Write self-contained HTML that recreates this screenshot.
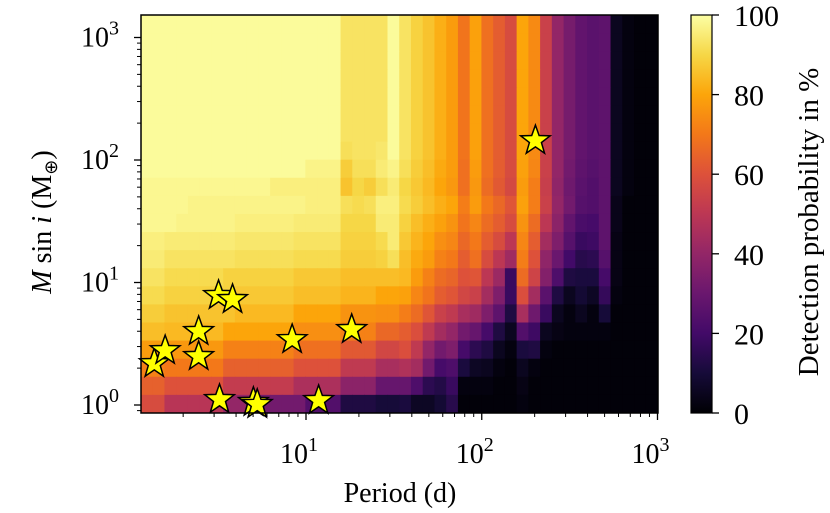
<!DOCTYPE html>
<html><head><meta charset="utf-8">
<style>
html,body{margin:0;padding:0;background:#fff;}
svg{display:block;font-family:"Liberation Serif",serif;}
</style></head>
<body>
<svg id="chart" width="830" height="513" viewBox="0 0 830 513" xmlns="http://www.w3.org/2000/svg">
<defs>
<linearGradient id="cbgrad" x1="0" y1="1" x2="0" y2="0">
<stop offset="0" stop-color="#000004"/><stop offset="0.1" stop-color="#160b39"/><stop offset="0.2" stop-color="#420a68"/><stop offset="0.3" stop-color="#6a176e"/><stop offset="0.4" stop-color="#932667"/><stop offset="0.5" stop-color="#bc3754"/><stop offset="0.6" stop-color="#dd513a"/><stop offset="0.7" stop-color="#f37819"/><stop offset="0.8" stop-color="#fca50a"/><stop offset="0.9" stop-color="#f6d746"/><stop offset="1" stop-color="#fcffa4"/>
</linearGradient>
<clipPath id="plotclip"><rect x="141" y="15" width="517" height="398"/></clipPath>
</defs>
<g id="heatmap" clip-path="url(#plotclip)"></g>
<g id="stars"></g>
<rect x="141" y="15" width="517" height="398" fill="none" stroke="#000" stroke-width="1.5"/>
<g id="xaxis"></g>
<g id="yaxis"></g>
<text x="400" y="502" font-size="28" text-anchor="middle">Period (d)</text>
<text transform="translate(51,222) rotate(-90)" font-size="28" text-anchor="middle"><tspan font-style="italic">M</tspan> sin <tspan font-style="italic">i</tspan> (M<tspan font-size="18" dy="6">⊕</tspan><tspan dy="-6">)</tspan></text>
<rect x="691" y="15" width="21" height="398" fill="url(#cbgrad)" stroke="#000" stroke-width="1.2"/>
<g id="cbaxis"></g>
<text transform="translate(818,222) rotate(-90)" font-size="29" text-anchor="middle">Detection probability in %</text>
</svg>
<script>
// log10 period range and log10 mass range of the grid
const logPeriodMin = 0.061, logPeriodMax = 3.0;
const logMassMin = -0.065, logMassMax = 3.184;
// detection probability (%) grid: rows from highest mass (top) to lowest mass (bottom), columns increasing period
const probGrid = [
[99,99,99,99,99,99,99,99,99,99,99,99,99,99,99,99,99,93,93,93,93,99,93,89,86,82,78,69,79,68,63,58,80,74,54,40,33,28,26,27,5,2,1,1],
[99,99,99,99,99,99,99,99,99,99,99,99,99,99,99,99,99,93,93,93,93,99,93,89,86,82,78,69,79,68,63,58,80,74,54,40,33,28,26,27,5,2,1,1],
[99,99,99,99,99,99,99,99,99,99,99,99,99,99,99,99,99,93,93,93,93,99,93,89,86,82,78,69,79,68,63,58,80,74,54,40,33,28,26,27,5,2,1,1],
[99,99,99,99,99,99,99,99,99,99,99,99,99,99,99,99,99,93,93,93,93,99,93,89,86,82,78,69,79,68,63,58,80,74,54,40,33,28,26,27,5,2,1,1],
[99,99,99,99,99,99,99,99,99,99,99,99,99,99,99,99,99,93,93,93,93,99,93,89,86,82,78,69,79,68,63,58,80,74,54,40,33,28,26,27,5,2,1,1],
[99,99,99,99,99,99,99,99,99,99,99,99,99,99,99,99,99,93,93,93,93,99,93,89,86,82,78,69,79,68,63,58,80,74,54,40,33,28,26,27,5,2,1,1],
[99,99,99,99,99,99,99,99,99,99,99,99,99,99,99,99,99,93,93,93,93,99,93,89,86,82,78,69,79,68,63,58,80,74,54,40,33,28,26,27,5,2,1,1],
[99,99,99,99,99,99,99,99,99,99,99,99,99,99,99,99,99,92,93,93,94,99,93,89,86,82,78,69,79,68,63,58,80,74,54,40,33,28,26,27,5,2,1,1],
[99,99,99,99,99,99,99,99,99,99,99,99,99,99,97,97,97,88,92,92,95,97,92,88,85,81,78,68,78,68,63,58,79,73,54,40,32,27,25,27,5,2,1,1],
[98,98,98,98,98,98,98,98,98,98,98,96,96,96,96,96,96,86,90,88,92,95,90,87,84,80,77,68,77,67,62,57,78,71,53,39,31,26,24,27,5,2,1,1],
[98,98,98,98,97,97,97,97,97,97,97,97,97,97,96,96,96,92,91,92,96,96,91,88,85,82,80,71,78,70,66,61,79,71,54,40,32,25,24,27,4,1,1,1],
[98,98,98,97,97,97,97,97,96,96,96,96,96,95,95,95,95,90,90,90,95,95,89,85,82,79,76,69,73,67,63,58,76,67,50,38,28,22,21,27,4,1,1,1],
[96,96,95,95,95,95,95,95,94,94,94,94,94,93,93,93,93,89,89,89,91,95,87,83,80,75,73,66,70,63,58,50,73,63,44,35,25,18,19,27,3,1,1,1],
[95,95,93,93,93,93,93,93,92,92,92,92,92,91,91,91,91,88,88,88,89,92,85,81,78,72,70,63,68,58,50,43,71,60,39,30,20,14,15,25,3,1,1,1],
[93,93,91,91,91,91,91,89,89,89,89,89,89,87,87,87,87,85,85,85,85,85,84,78,72,67,65,60,61,50,42,18,67,55,36,23,12,11,11,21,3,1,1,1],
[91,91,89,89,89,89,89,89,87,87,87,87,87,85,85,85,85,83,83,83,80,80,79,73,69,63,61,56,54,44,35,18,59,44,26,12,5,9,6,17,2,1,1,1],
[88,88,86,86,86,86,86,86,84,84,84,84,84,80,80,80,80,76,76,76,75,75,71,67,61,54,51,45,43,35,27,12,45,31,18,5,2,5,2,10,1,1,1,1],
[85,85,84,84,84,84,84,80,80,80,80,80,80,75,75,75,75,72,72,72,66,66,63,59,51,44,40,32,29,21,12,5,24,19,5,3,2,2,2,2,1,1,1,1],
[78,78,77,77,77,77,77,72,72,72,72,72,72,68,68,68,68,62,62,62,56,56,59,51,40,32,35,21,15,12,5,2,11,12,2,1,1,1,1,1,1,1,1,1],
[72,72,70,70,70,70,70,64,64,64,64,64,64,60,60,60,60,51,51,51,45,45,47,44,32,21,23,11,6,5,2,1,5,2,1,1,1,1,1,1,1,1,1,1],
[64,64,60,60,60,60,60,52,52,52,52,52,52,46,46,46,46,38,38,38,29,29,29,23,15,13,18,2,2,2,1,1,3,1,1,1,1,1,1,1,1,1,1,1],
[58,58,49,49,49,49,49,40,40,40,32,32,32,32,24,24,24,12,12,12,10,10,11,6,6,9,14,1,1,1,1,1,2,1,1,1,1,1,1,1,1,1,1,1]
];
// planets: period (d) and M sin i (Earth masses)
const planetPeriods = [1.37, 1.58, 2.45, 2.45, 3.18, 3.82, 3.22, 5.02, 5.28, 8.34, 18.2, 11.8, 202];
const planetMasses  = [2.24, 2.86, 4.1, 2.56, 8.06, 7.47, 1.14, 1.08, 1.04, 3.52, 4.25, 1.12, 148];
const xTickExps = [1, 2, 3];
const yTickExps = [0, 1, 2, 3];
const cbTicks = [0, 20, 40, 60, 80, 100];

const NS = "http://www.w3.org/2000/svg";
const X0 = 141, X1 = 658, Y0 = 413, Y1 = 15;
const xAt10 = 306, pxPerDecX = 175.75;
const yAt1 = 405, pxPerDecY = 122.5;
function xScale(logP){ return xAt10 + (logP - 1) * pxPerDecX; }
function yScale(logM){ return yAt1 - logM * pxPerDecY; }
function cbScale(v){ return 413 - v / 100 * 398; }
const stops = [[0,0,0,4],[0.1,22,11,57],[0.2,66,10,104],[0.3,106,23,110],[0.4,147,38,103],[0.5,188,55,84],[0.6,221,81,58],[0.7,243,120,25],[0.8,252,165,10],[0.9,246,215,70],[1,252,255,164]];
function inferno(v){
  const t = Math.max(0, Math.min(1, v / 100));
  for (let i = 0; i < stops.length - 1; i++) {
    const a = stops[i], b = stops[i+1];
    if (t <= b[0]) { const f = (t - a[0]) / (b[0] - a[0]);
      return "rgb(" + [1,2,3].map(k => Math.round(a[k] + (b[k]-a[k]) * f)).join(",") + ")"; }
  }
  return "rgb(252,255,164)";
}
function mk(tag, attrs, parent){ const e = document.createElementNS(NS, tag); for (const k in attrs) e.setAttribute(k, attrs[k]); parent.appendChild(e); return e; }

// heatmap
const hm = document.getElementById("heatmap");
const nRows = probGrid.length, nCols = probGrid[0].length;
const dLP = (logPeriodMax - logPeriodMin) / nCols, dLM = (logMassMax - logMassMin) / nRows;
for (let r = 0; r < nRows; r++) {
  for (let c = 0; c < nCols; c++) {
    const xa = xScale(logPeriodMin + c * dLP), xb = xScale(logPeriodMin + (c + 1) * dLP);
    const ya = yScale(logMassMax - r * dLM), yb = yScale(logMassMax - (r + 1) * dLM);
    const cell = mk("rect", {x: xa, y: ya, width: xb - xa + 0.6, height: yb - ya + 0.6, fill: inferno(probGrid[r][c])}, hm);
    
    
  }
}

// stars
const sg = document.getElementById("stars");
function starPath(cx, cy, R, r){
  let d = "";
  for (let i = 0; i < 10; i++) {
    const ang = -Math.PI / 2 + i * Math.PI / 5, rad = i % 2 ? r : R;
    d += (i ? "L" : "M") + (cx + rad * Math.cos(ang)).toFixed(2) + "," + (cy + rad * Math.sin(ang)).toFixed(2);
  }
  return d + "Z";
}
for (let i = 0; i < planetPeriods.length; i++) {
  const cx = xScale(Math.log10(planetPeriods[i])), cy = yScale(Math.log10(planetMasses[i]));
  const st = mk("path", {d: starPath(cx, cy + 1.5, 15.5, 6.3), fill: "#ffff00", stroke: "#000", "stroke-width": 1.5, "stroke-linejoin": "miter"}, sg);
  
  
}

// x axis
const xa = document.getElementById("xaxis");
for (let e = 0; e <= 3; e++) {
  for (let k = 1; k <= 9; k++) {
    const lx = e + Math.log10(k), px = xScale(lx);
    if (px < X0 - 0.5 || px > X1 + 1) continue;
    const len = k === 1 ? 7 : 4;
    const t = mk("line", {x1: px, y1: Y0, x2: px, y2: Y0 + len, stroke: "#000", "stroke-width": k === 1 ? 1.3 : 1}, xa);
    
    
  }
}
xTickExps.forEach(e => {
  const t = mk("text", {x: xScale(e) - 7, y: 463, "font-size": 28, "text-anchor": "middle"}, xa);
  
  
  t.innerHTML = '10<tspan font-size="20" dy="-12">' + e + '</tspan>';
});
// y axis
const ya = document.getElementById("yaxis");
for (let e = -1; e <= 3; e++) {
  for (let k = 1; k <= 9; k++) {
    const py = yScale(e + Math.log10(k));
    if (py > Y0 + 0.5 || py < Y1 - 0.5) continue;
    const len = k === 1 ? 7 : 4;
    const t = mk("line", {x1: X0, y1: py, x2: X0 - len, y2: py, stroke: "#000", "stroke-width": k === 1 ? 1.3 : 1}, ya);
    
    
  }
}
yTickExps.forEach(e => {
  const t = mk("text", {x: 119, y: yScale(e) + 9, "font-size": 28, "text-anchor": "end"}, ya);
  
  
  t.innerHTML = '10<tspan font-size="20" dy="-12">' + e + '</tspan>';
});
// colorbar axis
const cba = document.getElementById("cbaxis");
cbTicks.forEach(v => {
  const py = cbScale(v);
  const l = mk("line", {x1: 712, y1: py, x2: 719, y2: py, stroke: "#000", "stroke-width": 1.3}, cba);
  
  
  const t = mk("text", {x: 734, y: py + 11, "font-size": 30}, cba);
  
  
  t.textContent = v;
});
</script>
</body></html>
